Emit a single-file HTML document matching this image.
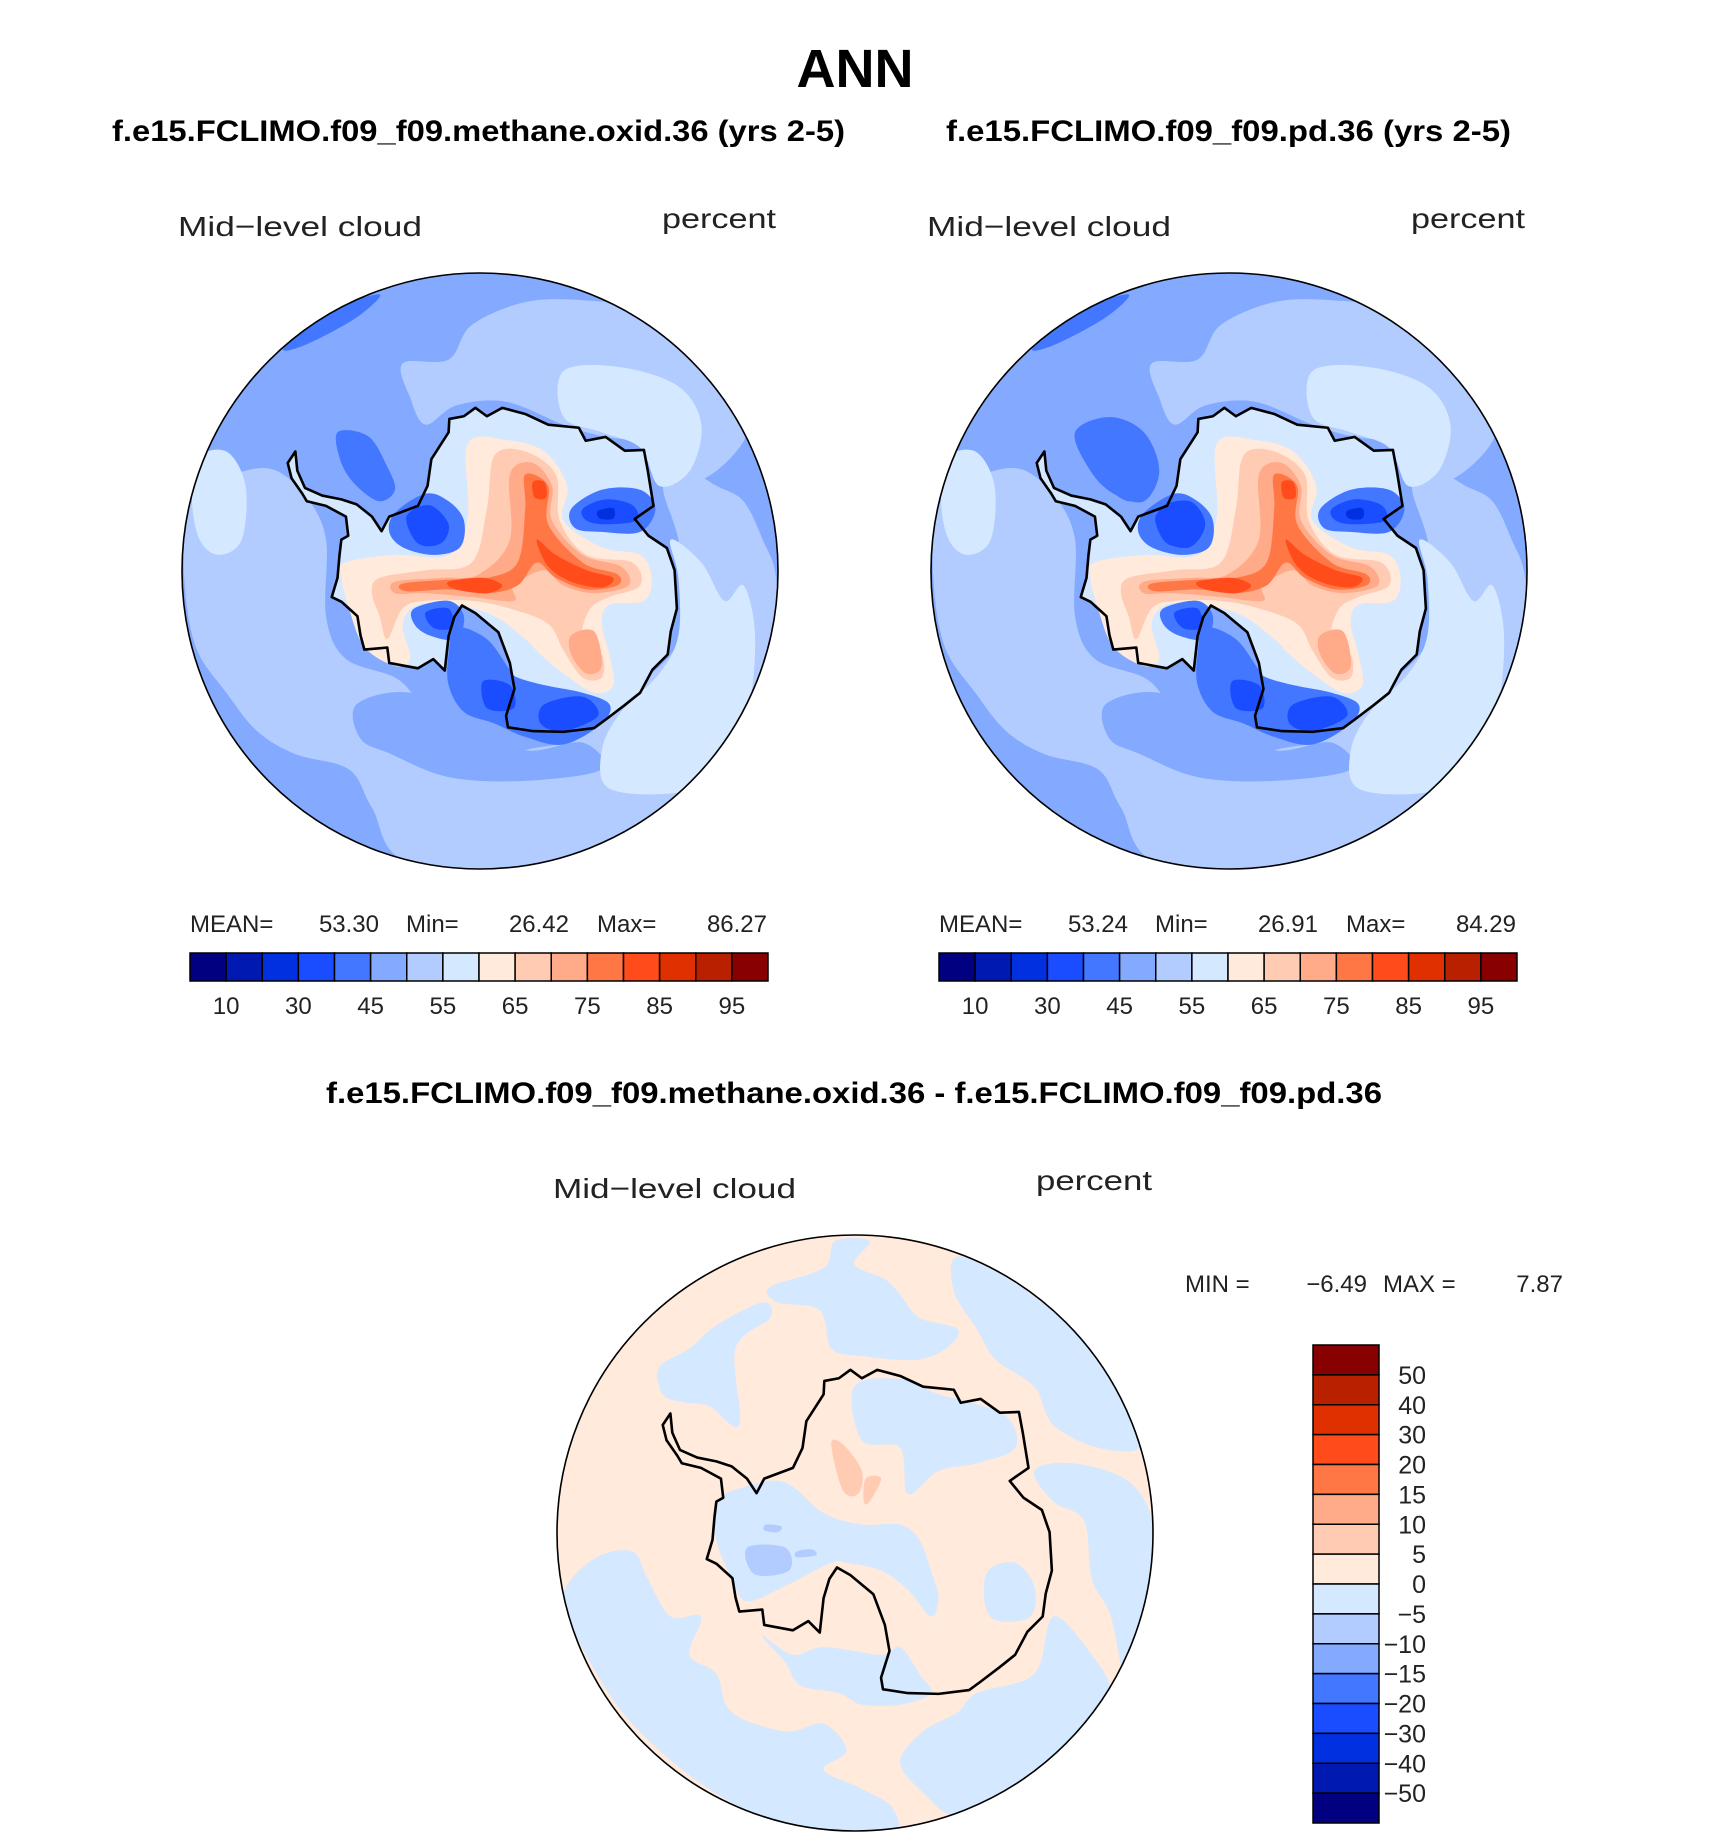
<!DOCTYPE html>
<html><head><meta charset="utf-8"><style>
body{margin:0;background:#fff}
svg{display:block}
text{font-family:"Liberation Sans",sans-serif}
</style></head><body>
<svg id="root" width="1710" height="1839" viewBox="0 0 1710 1839" xmlns="http://www.w3.org/2000/svg">
<text x="855" y="87" font-size="54" font-weight="bold" text-anchor="middle">ANN</text>
<text x="112" y="141" font-size="30" font-weight="bold" textLength="733" lengthAdjust="spacingAndGlyphs">f.e15.FCLIMO.f09_f09.methane.oxid.36 (yrs 2-5)</text>
<text x="946" y="141" font-size="30" font-weight="bold" textLength="565" lengthAdjust="spacingAndGlyphs">f.e15.FCLIMO.f09_f09.pd.36 (yrs 2-5)</text>
<text x="326" y="1103" font-size="30" font-weight="bold" textLength="1056" lengthAdjust="spacingAndGlyphs">f.e15.FCLIMO.f09_f09.methane.oxid.36 - f.e15.FCLIMO.f09_f09.pd.36</text>

<text x="178" y="236" font-size="28" fill="#222" textLength="244" lengthAdjust="spacingAndGlyphs">Mid−level cloud</text>
<text x="662" y="228" font-size="28" fill="#222" textLength="114" lengthAdjust="spacingAndGlyphs">percent</text>
<text x="927" y="236" font-size="28" fill="#222" textLength="244" lengthAdjust="spacingAndGlyphs">Mid−level cloud</text>
<text x="1411" y="228" font-size="28" fill="#222" textLength="114" lengthAdjust="spacingAndGlyphs">percent</text>
<text x="553" y="1198" font-size="28" fill="#222" textLength="243" lengthAdjust="spacingAndGlyphs">Mid−level cloud</text>
<text x="1036" y="1190" font-size="28" fill="#222" textLength="116" lengthAdjust="spacingAndGlyphs">percent</text>

<g font-size="24" fill="#222">
<text x="190" y="932">MEAN=</text><text x="379" y="932" text-anchor="end">53.30</text>
<text x="406" y="932">Min=</text><text x="569" y="932" text-anchor="end">26.42</text>
<text x="597" y="932">Max=</text><text x="767" y="932" text-anchor="end">86.27</text>
</g>
<g font-size="24" fill="#222">
<text x="939" y="932">MEAN=</text><text x="1128" y="932" text-anchor="end">53.24</text>
<text x="1155" y="932">Min=</text><text x="1318" y="932" text-anchor="end">26.91</text>
<text x="1346" y="932">Max=</text><text x="1516" y="932" text-anchor="end">84.29</text>
</g>
<g font-size="24" fill="#222">
<text x="1185" y="1292">MIN =</text><text x="1367" y="1292" text-anchor="end">−6.49</text>
<text x="1383" y="1292">MAX =</text><text x="1563" y="1292" text-anchor="end">7.87</text>
</g>
<g id="maps"></g>
<g id="bars"></g>
</svg>
<script>
// colour scale data
const palette = ["#000080","#0019b0","#0030e0","#1a4dff","#4477ff","#83aaff","#b2ccff","#d4e8ff","#ffeadc","#ffccb3","#ffaa88","#ff7744","#ff4c1a","#e03000","#b82000","#880000"];
const absLevels = [10,20,30,40,45,50,55,60,65,70,75,80,85,90,95];
const absTickLabels = ["10","30","45","55","65","75","85","95"];
const diffLevels = [-50,-40,-30,-20,-15,-10,-5,0,5,10,15,20,30,40,50];
const diffTickLabels = ["50","40","30","20","15","10","5","0","−5","−10","−15","−20","−30","−40","−50"];

const NS="http://www.w3.org/2000/svg";
function mk(tag,attrs,parent){const e=document.createElementNS(NS,tag);for(const k in attrs)e.setAttribute(k,attrs[k]);parent.appendChild(e);return e;}
const bars=document.getElementById('bars');

function hbar(x0,y0,w,h,name){
  const g=mk('g',{},bars);
  
  
  const bw=w/palette.length;
  palette.forEach((c,i)=>{
    const r=mk('rect',{x:x0+i*bw,y:y0,width:bw,height:h,fill:c,stroke:'#000','stroke-width':1.5},g);
    
    
  });
  absLevels.forEach((v,i)=>{
    if(i%2===0){
      const t=mk('text',{x:x0+(i+1)*bw,y:y0+h+33,'font-size':24,'text-anchor':'middle',fill:'#222'},g);
      t.textContent=absTickLabels[i/2];
      
      
    }
  });
}
hbar(190,953,578,28,'left-colorbar');
hbar(939,953,578,28,'right-colorbar');

(function(){
  const x0=1313,y0=1345,w=66,h=478;
  const g=mk('g',{},bars);
  
  
  const bh=h/palette.length;
  const rev=palette.slice().reverse();
  rev.forEach((c,i)=>{
    const r=mk('rect',{x:x0,y:y0+i*bh,width:w,height:bh,fill:c,stroke:'#000','stroke-width':1.5},g);
    
    
  });
  diffTickLabels.forEach((lab,i)=>{
    const t=mk('text',{x:1426,y:y0+(i+1)*bh+9,'font-size':25,'text-anchor':'end',fill:'#222'},g);
    t.textContent=lab;
    
    
  });
})();

// smooth closed path
function smooth(p){
  const n=p.length;let d=`M${p[0][0]},${p[0][1]}`;
  for(let i=0;i<n;i++){
    const p0=p[(i-1+n)%n],p1=p[i],p2=p[(i+1)%n],p3=p[(i+2)%n];
    const c1=[p1[0]+(p2[0]-p0[0])/6,p1[1]+(p2[1]-p0[1])/6];
    const c2=[p2[0]-(p3[0]-p1[0])/6,p2[1]-(p3[1]-p1[1])/6];
    d+=`C${c1[0]},${c1[1]} ${c2[0]},${c2[1]} ${p2[0]},${p2[1]}`;
  }
  return d+'Z';
}
const coast=[[300,470],[305,520],[325,565],[370,585],[420,595],[460,608],[500,640],[525,678],[545,640],[620,612],[645,560],[655,490],[700,420],[702,385],[740,378],[770,356],[800,378],[840,356],[900,372],[960,400],[1040,408],[1058,442],[1110,432],[1160,468],[1210,466],[1220,520],[1235,612],[1186,646],[1222,690],[1270,722],[1290,780],[1296,880],[1280,940],[1272,1000],[1232,1040],[1200,1100],[1160,1132],[1110,1170],[1080,1192],[1000,1202],[920,1200],[855,1190],[850,1160],[872,1090],[860,1022],[830,942],[770,892],[735,872],[715,902],[700,952],[690,1042],[660,1012],[620,1036],[545,1022],[540,982],[480,987],[470,950],[462,900],[420,862],[395,850],[410,800],[415,742],[420,700],[438,690],[432,640],[380,612],[330,600],[318,580],[290,540],[280,500]];
const coastD='M'+coast.map(p=>p.join(',')).join(' L')+'Z';

const leftShapes=[
 ['#b2ccff',[[20,620],[90,560],[170,520],[250,520],[330,590],[380,700],[380,900],[430,1010],[560,1060],[620,1120],[690,1200],[760,1290],[820,1290],[900,1250],[1040,1220],[1120,1140],[1280,1000],[1320,880],[1300,700],[1260,560],[1320,520],[1400,560],[1470,600],[1520,700],[1555,800],[1555,1000],[1500,1200],[1400,1380],[1250,1500],[1000,1565],[600,1545],[500,1400],[440,1300],[300,1260],[200,1200],[120,1100],[40,980],[10,800]]],
 ['#b2ccff',[[580,240],[700,230],[760,140],[900,80],[1050,75],[1200,100],[1350,200],[1450,320],[1480,420],[1400,520],[1300,560],[1240,500],[1220,450],[1100,430],[1000,400],[850,340],[720,350],[640,400],[600,330]]],
 ['#83aaff',[[460,1130],[600,1100],[760,1180],[900,1250],[1050,1230],[1100,1300],[900,1330],[700,1320],[550,1260],[470,1220]]],
 ['#d4e8ff',[[40,490],[120,470],[170,560],[160,700],[100,740],[50,700],[30,600]]],
 ['#d4e8ff',[[1000,260],[1150,250],[1300,300],[1360,400],[1330,520],[1250,560],[1200,460],[1100,420],[1000,380]]],
 ['#d4e8ff',[[1280,700],[1360,760],[1420,860],[1470,820],[1500,950],[1480,1150],[1400,1300],[1300,1360],[1120,1350],[1100,1250],[1150,1150],[1250,1050],[1300,950],[1300,800]]],
 ['#4477ff',[[270,200],[400,100],[520,60],[460,120],[330,190]]],
 ['#4477ff',[[410,420],[490,430],[540,510],[560,570],[520,600],[460,560],[420,500]]],
 ['COAST','#d4e8ff'],
 ['#ffeadc',[[430,760],[560,740],[700,740],[750,640],[750,450],[850,440],[950,470],[1010,560],[1000,650],[1100,720],[1200,740],[1230,800],[1210,860],[1120,870],[1100,920],[1120,1000],[1130,1080],[1080,1100],[1000,1050],[940,1000],[900,960],[820,900],[720,870],[620,870],[580,920],[600,1010],[560,1030],[480,980],[440,880],[420,800]]],
 ['#ffccb3',[[520,800],[640,780],[760,760],[800,620],[820,480],[900,470],[980,530],[990,650],[1060,740],[1180,760],[1200,820],[1120,850],[1070,880],[1050,950],[1100,1000],[1100,1060],[1050,1060],[1000,990],[960,920],[860,880],[760,860],[640,860],[580,880],[540,960],[520,900],[500,840]]],
 ['#ffaa88',[[560,810],[680,800],[780,790],[860,700],[860,530],[920,500],[970,560],[970,650],[1050,740],[1150,770],[1170,820],[1080,840],[1000,820],[950,780],[870,820],[870,860],[760,850],[640,840],[560,840]]],
 ['#ffaa88',[[1020,950],[1080,940],[1100,1030],[1060,1050],[1020,1000]]],
 ['#ff7744',[[580,815],[700,805],[800,800],[880,760],[900,620],[900,530],[960,560],[960,660],[1050,760],[1140,790],[1140,820],[1060,830],[980,800],[930,760],[880,820],[800,840],[700,830],[590,835]]],
 ['#ff4c1a',[[700,810],[790,800],[840,820],[800,840],[720,830]]],
 ['#ff4c1a',[[930,700],[980,740],[1060,780],[1130,800],[1100,825],[1020,810],[960,770]]],
 ['#ff4c1a',[[920,550],[950,550],[955,590],[925,590]]],
 ['#4477ff',[[560,630],[640,580],[700,600],[740,650],[730,720],[660,740],[580,720],[545,680]]],
 ['#1a4dff',[[590,640],[650,610],[700,660],[680,710],[620,710]]],
 ['#4477ff',[[1020,620],[1100,570],[1200,570],[1240,620],[1200,680],[1100,680],[1030,670]]],
 ['#1a4dff',[[1050,620],[1110,595],[1180,610],[1190,650],[1110,660],[1060,650]]],
 ['#0030e0',[[1090,625],[1130,618],[1130,645],[1095,645]]],
 ['#4477ff',[[610,880],[700,860],[740,900],[720,960],[650,950],[610,920]]],
 ['#1a4dff',[[640,890],[700,880],[710,930],[660,930]]],
 ['#4477ff',[[720,930],[800,960],[860,1040],[880,1060],[950,1080],[1050,1100],[1120,1130],[1100,1180],[1000,1235],[900,1215],[820,1180],[740,1150],[700,1080],[700,1000]]],
 ['#1a4dff',[[790,1070],[860,1080],[870,1140],[800,1140]]],
 ['#1a4dff',[[950,1130],[1050,1110],[1090,1160],[1000,1200],[940,1180]]]
];
const rightShapes=leftShapes.map(s=>s).concat([
 ['#4477ff',[[380,420],[470,380],[560,420],[600,520],[560,600],[480,580],[420,520]]],
 ['#1a4dff',[[600,620],[680,600],[720,660],[680,720],[610,700]]]
]);
const diffShapes=[
 ['#d4e8ff',[[270,350],[350,300],[420,240],[540,180],[560,220],[470,300],[480,500],[400,450],[330,440],[280,420]]],
 ['#d4e8ff',[[560,140],[700,90],[730,20],[820,20],[780,80],[860,120],[900,160],[950,220],[1050,250],[1020,300],[940,330],[800,320],[720,300],[690,200],[580,180]]],
 ['#d4e8ff',[[1050,60],[1200,130],[1350,250],[1450,380],[1530,550],[1420,560],[1300,500],[1250,400],[1150,330],[1100,250],[1040,150]]],
 ['#d4e8ff',[[1250,620],[1350,600],[1500,650],[1565,780],[1560,1000],[1500,1200],[1450,1000],[1400,900],[1380,750],[1300,700]]],
 ['#d4e8ff',[[780,400],[900,380],[1000,420],[1080,440],[1180,480],[1200,560],[1100,600],[1000,620],[920,680],[900,560],[800,540]]],
 ['#d4e8ff',[[420,700],[500,660],[600,650],[700,730],[800,760],[900,760],[950,800],[980,880],[1000,950],[980,1000],[920,930],[850,880],[760,860],[720,860],[600,920],[500,960],[460,900],[420,800]]],
 ['#d4e8ff',[[540,1050],[620,1100],[700,1080],[850,1100],[900,1080],[950,1150],[980,1200],[900,1230],[800,1230],[740,1200],[640,1180],[600,1120]]],
 ['#d4e8ff',[[100,850],[200,830],[240,900],[300,1000],[380,1000],[350,1100],[420,1150],[460,1250],[600,1300],[700,1280],[760,1350],[700,1400],[800,1450],[880,1500],[870,1570],[600,1540],[400,1450],[200,1280],[80,1100],[20,950]]],
 ['#d4e8ff',[[1100,1200],[1250,1150],[1300,1000],[1400,1100],[1450,1200],[1400,1300],[1300,1400],[1200,1450],[1050,1520],[960,1460],[900,1380],[960,1300],[1050,1250]]],
 ['#d4e8ff',[[1130,880],[1200,860],[1250,920],[1240,1000],[1150,1010],[1120,960]]],
 ['#b2ccff',[[500,820],[600,820],[610,880],[520,890]]],
 ['#b2ccff',[[630,830],[670,825],[680,840],[630,845]]],
 ['#b2ccff',[[550,760],[590,765],[580,780],[545,775]]],
 ['#ffccb3',[[720,550],[750,550],[800,620],[790,680],[750,670]]],
 ['#ffccb3',[[810,640],[850,640],[820,700],[805,700]]]
];

const maps=document.getElementById('maps');
function drawMap(cx,cy,base,shapes,name,idx){
  const s=298/778;
  const g=mk('g',{},maps);
  
  
  const cp=mk('clipPath',{id:'clip'+idx},g);
  mk('circle',{cx:782,cy:782,r:778},cp);
  const inner=mk('g',{transform:`translate(${cx-782*s},${cy-782*s}) scale(${s})`,'clip-path':`url(#clip${idx})`},g);
  const bg=mk('circle',{cx:782,cy:782,r:778,fill:base},inner);
  
  
  shapes.forEach(sh=>{
    let p;
    if(sh[0]==='COAST'){p=mk('path',{d:coastD,fill:sh[1]},inner);}
    else{p=mk('path',{d:smooth(sh[1]),fill:sh[0]},inner);}
    
    
  });
  const c=mk('path',{d:coastD,fill:'none',stroke:'#000','stroke-width':2.6,'vector-effect':'non-scaling-stroke','stroke-linejoin':'round'},inner);
  
  
  const ring=mk('circle',{cx:cx,cy:cy,r:298,fill:'none',stroke:'#000','stroke-width':1.6},g);
  
  
}
drawMap(480,571,'#83aaff',leftShapes,'left-polar-map',1);
drawMap(1229,571,'#83aaff',rightShapes,'right-polar-map',2);
drawMap(855,1533,'#ffeadc',diffShapes,'diff-polar-map',3);
</script>
</body></html>
